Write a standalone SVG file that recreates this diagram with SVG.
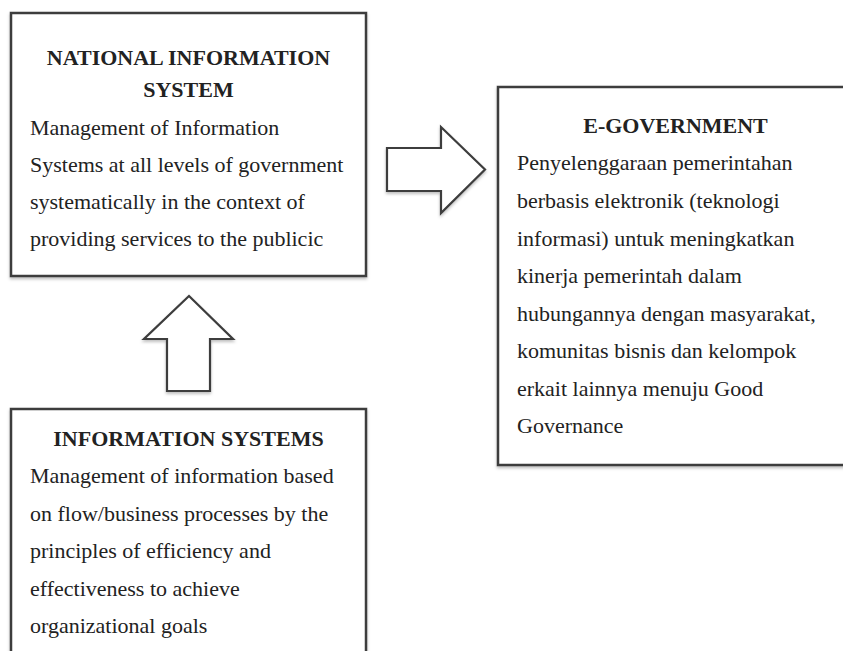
<svg xmlns="http://www.w3.org/2000/svg" width="843" height="651" viewBox="0 0 843 651">
<style>
.box{fill:#fff;stroke:#3c3c3c;stroke-width:2.5;filter:url(#sh)}
.arr{fill:#fff;stroke:#3c3c3c;stroke-width:2.2;stroke-linejoin:miter;filter:url(#sh)}
text{font-family:"Liberation Serif","Times New Roman",serif;font-size:22px;fill:#222}
.t{font-weight:bold;text-anchor:middle}
</style>
<defs>
<filter id="sh" x="-10%" y="-10%" width="120%" height="120%">
<feDropShadow dx="0" dy="2" stdDeviation="1.5" flood-color="#000" flood-opacity="0.25"/>
</filter>
</defs>
<rect width="843" height="651" fill="#fff"/>
<g id="connectors">
<path class="arr" d="M387,148 L441,148 L441,127 L485,169.5 L441,213 L441,191 L387,191 Z"/>
<path class="arr" d="M189,296 L233,339 L210,339 L210,391 L167,391 L167,339 L144,339 Z"/>
</g>
<g id="national">
<rect class="box" x="11" y="13" width="355" height="263"/>
<text class="t" x="188.5" y="65">NATIONAL INFORMATION</text>
<text class="t" x="188.5" y="97">SYSTEM</text>
<text x="30" y="135">Management of Information</text>
<text x="30" y="172">Systems at all levels of government</text>
<text x="30" y="209">systematically in the context of</text>
<text x="30" y="246">providing services to the publicic</text>
</g>
<g id="egov">
<rect class="box" x="498" y="87" width="360" height="378"/>
<text class="t" x="675.5" y="133">E-GOVERNMENT</text>
<text x="517" y="170">Penyelenggaraan pemerintahan</text>
<text x="517" y="208">berbasis elektronik (teknologi</text>
<text x="517" y="246">informasi) untuk meningkatkan</text>
<text x="517" y="283">kinerja pemerintah dalam</text>
<text x="517" y="321">hubungannya dengan masyarakat,</text>
<text x="517" y="358">komunitas bisnis dan kelompok</text>
<text x="517" y="396">erkait lainnya menuju Good</text>
<text x="517" y="433">Governance</text>
</g>
<g id="infosys">
<rect class="box" x="11" y="409" width="355" height="260"/>
<text class="t" x="188.5" y="446">INFORMATION SYSTEMS</text>
<text x="30" y="483">Management of information based</text>
<text x="30" y="521">on flow/business processes by the</text>
<text x="30" y="558">principles of efficiency and</text>
<text x="30" y="596">effectiveness to achieve</text>
<text x="30" y="633">organizational goals</text>
</g>
</svg>
